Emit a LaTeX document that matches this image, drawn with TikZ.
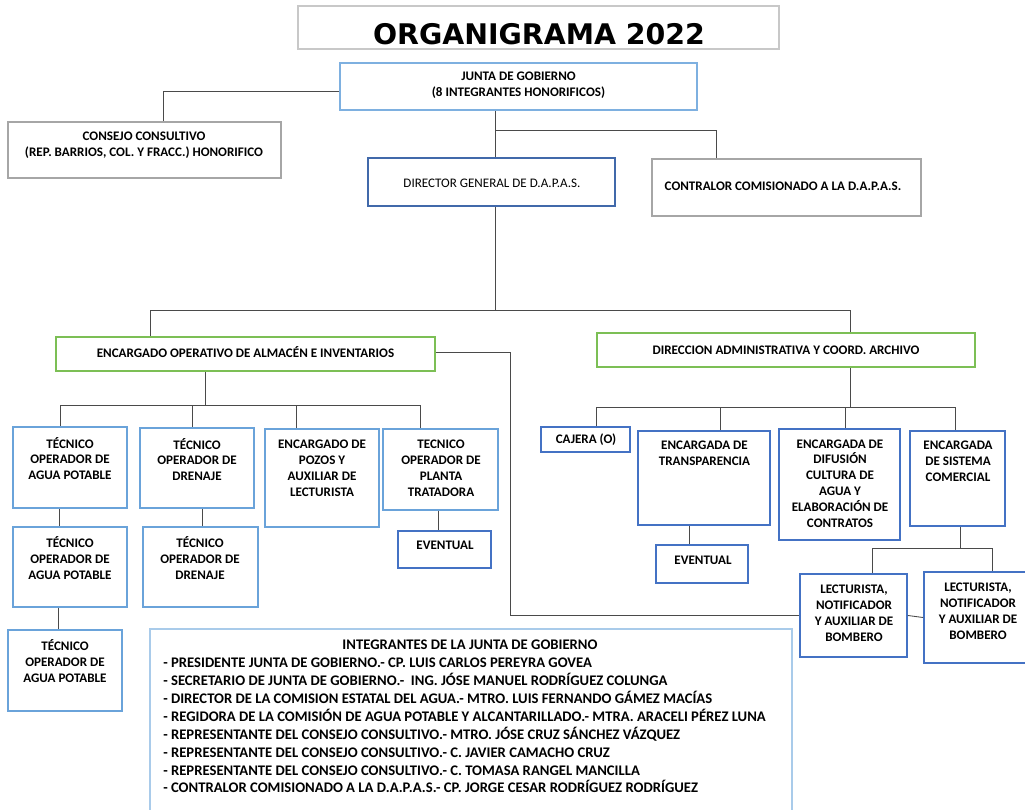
\documentclass[tikz,border=0pt]{standalone}
\usepackage{fontspec}
\setmainfont{Carlito}
\newfontfamily\titlefont{DejaVu Sans}
\usetikzlibrary{calc}
\definecolor{cgrayl}{HTML}{C8C8C8}
\definecolor{cgray}{HTML}{A6A6A6}
\definecolor{cjunta}{HTML}{7EB0E0}
\definecolor{cdir}{HTML}{4169AA}
\definecolor{cgreen}{HTML}{7CBF55}
\definecolor{cblue}{HTML}{6AA3DA}
\definecolor{cblued}{HTML}{4472C4}
\definecolor{cint}{HTML}{A9CBEA}
\definecolor{cline}{HTML}{4A4A4A}
\tikzset{
  box/.style={draw, line width=1.4pt, inner sep=0pt, fill=white},
  txt/.style={inner sep=0pt, align=center, font=\fontsize{9.8}{11.9}\selectfont\bfseries},
  conn/.style={draw=cline, line width=0.65pt},
}
\newcommand\obox[9]{%
  \node[box, #2, minimum width={(#5-#3)*0.75pt}, minimum height={(#6-#4)*0.75pt}] (#1) at ({(#3+#5)/2},{(#4+#6)/2}) {};
  \node[txt] (#1-t) at (#7,#8) {#9};}
\begin{document}
\begin{tikzpicture}[x=0.75pt, y=-0.75pt]
\useasboundingbox[fill=white] (0,0) rectangle (1025,810);

% title
\node[box, draw=cgrayl, line width=1pt, minimum width={481*0.75pt}, minimum height={43*0.75pt}] (title) at (538.5,27.5) {};
\node[inner sep=0pt, font=\titlefont\bfseries\fontsize{21.3}{24}\selectfont] (title-t) at (539,34) {ORGANIGRAMA 2022};

% top level
\obox{junta}{draw=cjunta}{340}{63}{697}{110}{518.5}{85}{JUNTA DE GOBIERNO\\(8 INTEGRANTES HONORIFICOS)}
\obox{consejo}{draw=cgray}{8}{122}{281}{178}{144}{145.5}{CONSEJO CONSULTIVO\\(REP. BARRIOS, COL. Y FRACC.) HONORIFICO}
\obox{director}{draw=cdir}{368}{158}{615}{206}{492}{183}{\mdseries DIRECTOR GENERAL DE D.A.P.A.S.}
\obox{contralor}{draw=cgray}{652}{159}{921}{216}{783}{186}{CONTRALOR COMISIONADO A LA D.A.P.A.S.}

% second level
\obox{almacen}{draw=cgreen}{56}{337}{435}{371}{245.5}{352}{ENCARGADO OPERATIVO DE ALMACÉN E INVENTARIOS}
\obox{direccion}{draw=cgreen}{597}{333}{975}{367}{786}{350}{DIRECCION ADMINISTRATIVA Y COORD. ARCHIVO}

% left branch
\obox{tap1}{draw=cblue}{13}{427}{127}{508}{70}{458.5}{TÉCNICO\\OPERADOR DE\\AGUA POTABLE}
\obox{td1}{draw=cblue}{140}{428}{254}{508}{197}{459.5}{TÉCNICO\\OPERADOR DE\\DRENAJE}
\obox{epal}{draw=cblue}{265}{429}{379}{527}{322}{468}{ENCARGADO DE\\POZOS Y\\AUXILIAR DE\\LECTURISTA}
\obox{tpt}{draw=cblue}{383}{429}{498}{510}{441}{468.5}{TECNICO\\OPERADOR DE\\PLANTA\\TRATADORA}
\obox{tap2}{draw=cblue}{13}{527}{127}{607}{70}{558}{TÉCNICO\\OPERADOR DE\\AGUA POTABLE}
\obox{td2}{draw=cblue}{143}{527}{258}{607}{200}{558}{TÉCNICO\\OPERADOR DE\\DRENAJE}
\obox{tap3}{draw=cblue}{8}{630}{122}{711}{65}{661}{TÉCNICO\\OPERADOR DE\\AGUA POTABLE}
\obox{ev1}{draw=cblued}{398}{531}{491}{568}{445}{545}{EVENTUAL}

% right branch
\obox{cajera}{draw=cblued}{541}{427}{630}{452}{586}{440}{CAJERA (O)}
\obox{etrans}{draw=cblued}{638}{431}{770}{525}{704.5}{453}{ENCARGADA DE\\TRANSPARENCIA}
\obox{edif}{draw=cblued}{779}{429}{900}{540}{840}{483.5}{ENCARGADA DE\\DIFUSIÓN\\CULTURA DE\\AGUA Y\\ELABORACIÓN DE\\CONTRATOS}
\obox{esc}{draw=cblued}{910}{431}{1005}{526}{958}{461}{ENCARGADA\\DE SISTEMA\\COMERCIAL}
\obox{ev2}{draw=cblued}{656}{545}{748}{583}{703}{560}{EVENTUAL}
\obox{lect1}{draw=cblued}{800}{574}{907}{657}{854}{613}{LECTURISTA,\\NOTIFICADOR\\Y AUXILIAR DE\\BOMBERO}
\obox{lect2}{draw=cblued}{924}{572}{1028}{663}{978}{611}{LECTURISTA,\\NOTIFICADOR\\Y AUXILIAR DE\\BOMBERO}

% integrantes box (bottom cut off)
\draw[cint, line width=1.2pt] (150,812) -- (150,629) -- (792,629) -- (792,812);
\node[txt, font=\fontsize{11}{13.4}\selectfont\bfseries] (int-title) at (470,645) {INTEGRANTES DE LA JUNTA DE GOBIERNO};
\node[inner sep=0pt, anchor=north west, align=left, font=\fontsize{11}{13.4}\selectfont\bfseries] (int-list) at (163,658) {%
- PRESIDENTE JUNTA DE GOBIERNO.- CP. LUIS CARLOS PEREYRA GOVEA\\
- SECRETARIO DE JUNTA DE GOBIERNO.-\ \ ING. JÓSE MANUEL RODRÍGUEZ COLUNGA\\
- DIRECTOR DE LA COMISION ESTATAL DEL AGUA.- MTRO. LUIS FERNANDO GÁMEZ MACÍAS\\
- REGIDORA DE LA COMISIÓN DE AGUA POTABLE Y ALCANTARILLADO.- MTRA. ARACELI PÉREZ LUNA\\
- REPRESENTANTE DEL CONSEJO CONSULTIVO.- MTRO. JÓSE CRUZ SÁNCHEZ VÁZQUEZ\\
- REPRESENTANTE DEL CONSEJO CONSULTIVO.- C. JAVIER CAMACHO CRUZ\\
- REPRESENTANTE DEL CONSEJO CONSULTIVO.- C. TOMASA RANGEL MANCILLA\\
- CONTRALOR COMISIONADO A LA D.A.P.A.S.- CP. JORGE CESAR RODRÍGUEZ RODRÍGUEZ};

% connector coordinates
\coordinate (kc) at (163,91);
\coordinate (ka) at (495,130);
\coordinate (kct) at (716,130);
\coordinate (kb) at (495,310);
\coordinate (kbl) at (150,310);
\coordinate (kbr) at (850,310);
\coordinate (kl) at (205,405);
\coordinate (kl1) at (60,405);
\coordinate (kl2) at (192,405);
\coordinate (kl3) at (296,405);
\coordinate (kl4) at (420,405);
\coordinate (kr) at (850,407);
\coordinate (kr1) at (596,407);
\coordinate (kr2) at (720,407);
\coordinate (kr3) at (845,407);
\coordinate (kr4) at (955,407);
\coordinate (ks) at (960,548);
\coordinate (ks1) at (872,548);
\coordinate (ks2) at (992,548);
\coordinate (kv1) at (59,0);
\coordinate (kv2) at (58,0);
\coordinate (kv3) at (202,0);
\coordinate (kv4) at (438,0);
\coordinate (kv5) at (689,0);
\coordinate (kx) at (510,352);

% connectors
\draw[conn] (junta.west |- kc) -- (kc) -- (consejo.north -| kc);
\draw[conn] (junta.south -| ka) -- (director.north -| ka);
\draw[conn] (ka) -- (kct) -- (contralor.north -| kct);
\draw[conn] (director.south -| kb) -- (kb);
\draw[conn] (almacen.north -| kbl) -- (kbl) -- (kbr) -- (direccion.north -| kbr);
\draw[conn] (almacen.east |- kx) -- (kx) |- (lect1.west);
\draw[conn] (almacen.south -| kl) -- (kl);
\draw[conn] (kl1) -- (kl4);
\draw[conn] (kl1) -- (tap1.north -| kl1);
\draw[conn] (kl2) -- (td1.north -| kl2);
\draw[conn] (kl3) -- (epal.north -| kl3);
\draw[conn] (kl4) -- (tpt.north -| kl4);
\draw[conn] (tap1.south -| kv1) -- (tap2.north -| kv1);
\draw[conn] (tap2.south -| kv2) -- (tap3.north -| kv2);
\draw[conn] (td1.south -| kv3) -- (td2.north -| kv3);
\draw[conn] (tpt.south -| kv4) -- (ev1.north -| kv4);
\draw[conn] (direccion.south -| kr) -- (kr);
\draw[conn] (kr1) -- (kr4);
\draw[conn] (kr1) -- (cajera.north -| kr1);
\draw[conn] (kr2) -- (etrans.north -| kr2);
\draw[conn] (kr3) -- (edif.north -| kr3);
\draw[conn] (kr4) -- (esc.north -| kr4);
\draw[conn] (etrans.south -| kv5) -- (ev2.north -| kv5);
\draw[conn] (esc.south -| ks) -- (ks);
\draw[conn] (ks1) -- (ks2);
\draw[conn] (ks1) -- (lect1.north -| ks1);
\draw[conn] (ks2) -- (lect2.north -| ks2);
\draw[conn] (lect1.east) -- (lect2.west);
\end{tikzpicture}
\end{document}
